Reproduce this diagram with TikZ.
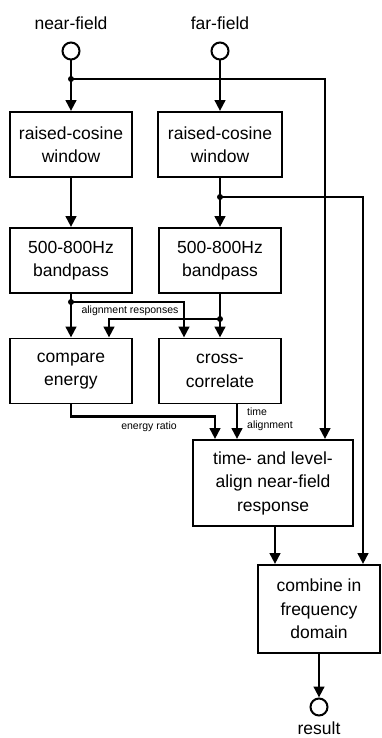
\documentclass[tikz,border=0pt]{standalone}
\usepackage{fontspec}
\setmainfont{Liberation Sans}
\usetikzlibrary{arrows.meta}
\newcommand\bxfont{\fontsize{17.5}{23.5}\selectfont}
\newcommand\smfont{\fontsize{10.5}{13}\selectfont}
\begin{document}
\begin{tikzpicture}[x=1pt,y=-1pt,
  box/.style={draw,line width=1.9pt,inner sep=0pt,align=center,font=\bxfont},
  term/.style={draw,circle,line width=2pt,minimum size=17pt,inner sep=0pt},
  conn/.style={line width=2.7pt,-{Triangle[length=11pt,width=10.5pt]}},
  lab/.style={font=\bxfont,inner sep=0pt},
  small/.style={font=\smfont,inner sep=0pt},
  dot/.style={circle,fill,inner sep=0pt,minimum size=6pt}]
\useasboundingbox[fill=white] (0,0) rectangle (381,738);

% terminals
\node[lab] (nfl) at (71,23) {near-field};
\node[term] (nf) at (71,51) {};
\node[lab] (ffl) at (220,23) {far-field};
\node[term] (ff) at (220,51) {};

% boxes
\node[box,minimum width=122pt,minimum height=65pt] (rcL) at (71,144.5) {raised-cosine\\window};
\node[box,minimum width=124pt,minimum height=65pt] (rcR) at (220,144.5) {raised-cosine\\window};
\node[box,minimum width=122pt,minimum height=65pt] (bpL) at (71,260.5) {500-800Hz\\bandpass};
\node[box,minimum width=122pt,minimum height=65pt] (bpR) at (220,260.5) {500-800Hz\\bandpass};
\node[box,minimum width=122pt,minimum height=65pt] (ce) at (71,371) {compare\\energy};
\node[box,minimum width=122pt,minimum height=65pt] (cc) at (220,371) {cross-\\correlate};
\node[box,minimum width=160pt,minimum height=86pt] (ta) at (273,483) {time- and level-\\align near-field\\response};
\node[box,minimum width=122pt,minimum height=88pt] (cb) at (319,609) {combine in\\frequency\\domain};
\node[term] (res) at (319,707) {};
\node[lab] (resl) at (319,728.5) {result};

% junctions
\node[dot] (j1) at (71,79) {};
\node[dot] (j2) at (220,197) {};
\node[dot] (j3) at (71,302) {};
\node[dot] (j4) at (220,319) {};

% connectors
\draw[conn] (nf) -- (rcL);
\draw[conn] (ff) -- (rcR);
\draw[conn] (j1.center) -| ([xshift=52pt]ta.north);
\draw[conn] (rcL) -- (bpL);
\draw[conn] (rcR) -- (bpR);
\draw[conn] (j2.center) -| ([xshift=44pt]cb.north);
\draw[conn] (bpL) -- (ce);
\draw[conn] (bpR) -- (cc);
\draw[conn] (j3.center) -| ([xshift=-36pt]cc.north);
\draw[conn] (j4.center) -| ([xshift=38pt]ce.north);
\draw[conn] (ce.south) -- ++(0,12) -| ([xshift=-58pt]ta.north);
\draw[conn] ([xshift=17pt]cc.south) -- ([xshift=17pt]cc.south |- ta.north);
\draw[conn] ([xshift=2pt]ta.south) -- ([xshift=2pt]ta.south |- cb.north);
\draw[conn] (cb) -- (res);

% labels
\node[small] (ar) at (130,310.5) {alignment responses};
\node[small] (er) at (149,427) {energy ratio};
\node[small,align=left,anchor=west] (tal) at (247,419.5) {time\\alignment};
\end{tikzpicture}
\end{document}
